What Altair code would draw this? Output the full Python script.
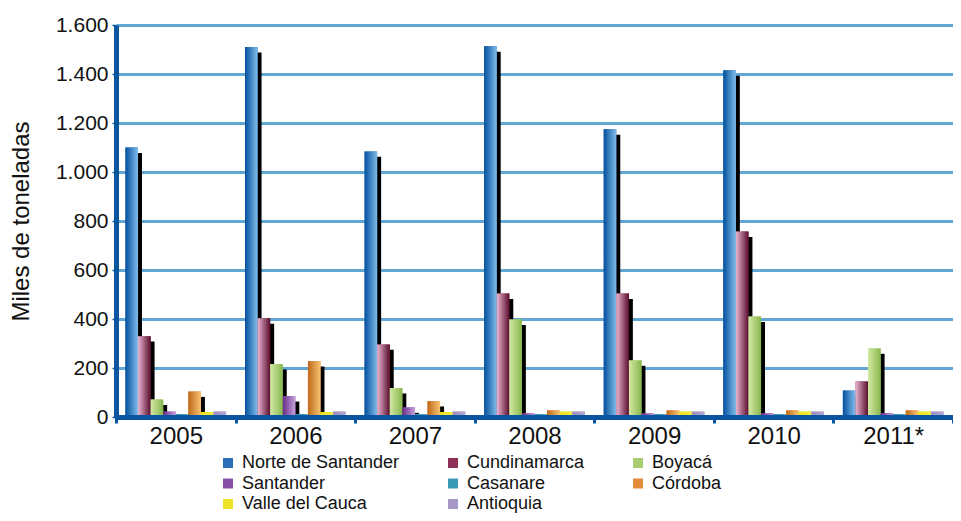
import altair as alt
import pandas as pd

years = ["2005", "2006", "2007", "2008", "2009", "2010", "2011*"]
series = ["Norte de Santander", "Cundinamarca", "Boyacá", "Santander",
          "Casanare", "Córdoba", "Valle del Cauca", "Antioquia"]

norte = [1100, 1510, 1084, 1513, 1174, 1415, 108]
cundinamarca = [330, 403, 296, 504, 504, 757, 145]
boyaca = [71, 216, 118, 398, 231, 410, 280]
santander = [22, 85, 39, 15, 15, 15, 15]
casanare = [12, 12, 12, 12, 12, 12, 12]
cordoba = [104, 228, 65, 27, 27, 27, 27]
valle = [20, 20, 20, 22, 22, 22, 22]
antioquia = [22, 22, 22, 22, 22, 22, 22]

values = [norte, cundinamarca, boyaca, santander, casanare, cordoba, valle, antioquia]

legend_colors = ["#2a6fb8", "#8e2f57", "#a8cc70", "#8a4fa8",
                 "#3a9ab5", "#e08a3a", "#eee52a", "#a898c8"]
grad_stops = [
    ("#04509e", "#80bdea"),
    ("#ebb6d2", "#5a0d2c"),
    ("#d4e9a6", "#86b64c"),
    ("#6a2b8c", "#c6a2dc"),
    ("#2f8fab", "#52b0c8"),
    ("#bf6818", "#f8c472"),
    ("#eee21a", "#f6ee40"),
    ("#9d8cc0", "#b2a6d2"),
]

rows = []
for s, vals in zip(series, values):
    for y, v in zip(years, vals):
        rows.append({"year": y, "series": s, "value": v})
df = pd.DataFrame(rows)

FONT = "Liberation Sans"
BLUE = "#0a55a0"

x_enc = alt.X(
    "year:N", sort=years,
    scale=alt.Scale(domain=years, paddingInner=0, paddingOuter=0),
    axis=alt.Axis(title=None, labelAngle=0, labelFont=FONT, labelFontSize=24,
                  labelColor="#111111", labelPadding=1, domainColor=BLUE,
                  domainWidth=5, tickColor=BLUE, tickWidth=3, tickSize=6,
                  tickBand="extent", grid=False, zindex=1),
)
y_scale = alt.Scale(domain=[0, 1600], nice=False)
y_axis = alt.Axis(values=list(range(0, 1601, 200)),
                  labelExpr="replace(format(datum.value, ','), ',', '.')",
                  labelFont=FONT, labelFontSize=21, labelColor="#111111",
                  labelPadding=4, title="Miles de toneladas", titleFont=FONT,
                  titleFontSize=24, titleFontWeight="normal", titleColor="#111111",
                  titlePadding=22, domainColor=BLUE, domainWidth=5,
                  tickColor=BLUE, tickSize=4, tickWidth=1.5,
                  gridColor="#62a6d4", gridWidth=3)

xo_main = alt.XOffset("series:N", sort=series,
                      scale=alt.Scale(domain=series, paddingOuter=0.75,
                                      paddingInner=0, align=0.5))
xo_shadow = alt.XOffset("series:N", sort=series,
                        scale=alt.Scale(domain=series, paddingOuter=0.75,
                                        paddingInner=0, align=0.71))

# shadow: same bars, shifted right by the offset scale and a little lower
shadow = alt.Chart(df).transform_calculate(
    sv="max(datum.value - 22, 0)"
).mark_bar(color="black").encode(
    x=x_enc, xOffset=xo_shadow,
    y=alt.Y("sv:Q", scale=y_scale, axis=y_axis),
)

base = alt.Chart(df).encode(
    x=x_enc, xOffset=xo_main,
    y=alt.Y("value:Q", scale=y_scale, axis=y_axis),
)

solid = base.mark_bar().encode(
    color=alt.Color(
        "series:N", sort=series,
        scale=alt.Scale(domain=series, range=legend_colors),
        legend=alt.Legend(orient="none", legendX=103, legendY=429,
                          direction="horizontal", columns=3, title=None,
                          labelFont=FONT, labelFontSize=18, labelColor="#111111",
                          symbolType="square", symbolSize=100, symbolStrokeWidth=0,
                          columnPadding=44, rowPadding=2.5, labelOffset=5,
                          padding=0, labelLimit=300),
    )
)

layers = [solid]
for s, (c0, c1) in zip(series, grad_stops):
    grad = alt.LinearGradient(
        gradient="linear", x1=0, x2=1, y1=0, y2=0,
        stops=[alt.GradientStop(color=c0, offset=0),
               alt.GradientStop(color=c1, offset=1)],
    )
    layers.append(base.transform_filter(alt.datum.series == s).mark_bar(color=grad))

main = alt.layer(*layers)

chart = alt.layer(shadow, main).resolve_scale(xOffset="independent").properties(
    width=837, height=392,
    autosize=alt.AutoSizeParams(type="none"),
    padding={"left": 108, "top": 17, "right": 0, "bottom": 96},
    background="white",
).configure_view(stroke=None)

chart.save("out.html", embed_options={"renderer": "svg", "actions": False})
